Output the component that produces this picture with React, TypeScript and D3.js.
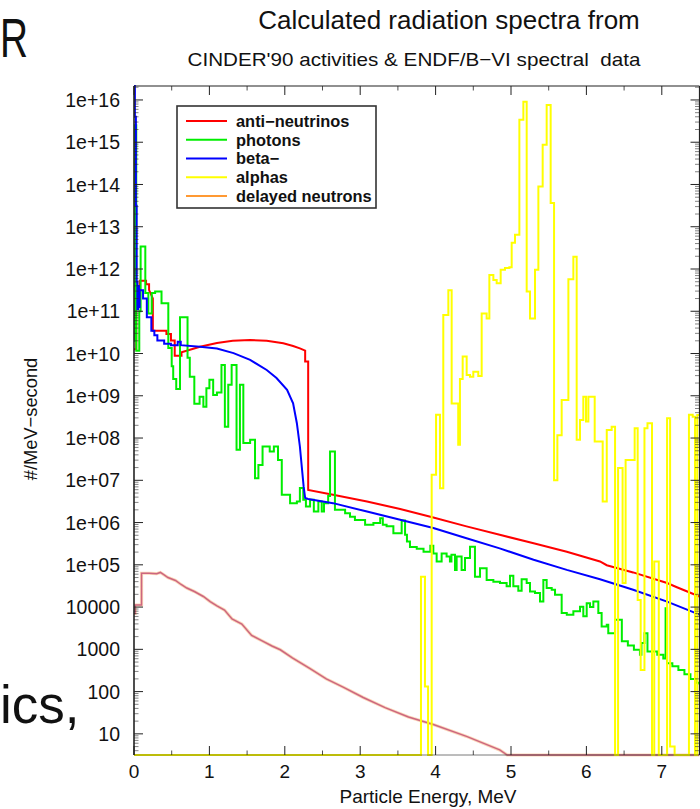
import React from "react";
import * as d3 from "d3";

const W = 700;
const H = 809;

// ---------- data (Energy MeV, #/MeV-second) ----------
const antiNeutrinos: [number, number][] = [
  [0, 1.26e10], [0.03, 1.26e10], [0.03, 2.82e11], [0.075, 2.82e11], [0.075, 5.25e11], [0.16, 5.25e11],
  [0.16, 4.37e11], [0.2, 4.37e11], [0.2, 3.16e11], [0.25, 2.0e11], [0.25, 3.47e10], [0.43, 3.47e10],
  [0.43, 2.88e10], [0.49, 2.88e10], [0.49, 2.04e10], [0.54, 2.04e10], [0.54, 8.91e9], [0.63, 8.91e9],
  [0.63, 1.07e10], [0.875, 1.45e10], [1.1, 1.78e10], [1.31, 2.0e10], [1.54, 2.09e10], [1.76, 2.0e10],
  [1.98, 1.74e10], [2.11, 1.51e10], [2.2, 1.32e10], [2.27, 1.17e10], [2.27, 6.46e9], [2.31, 6.46e9],
  [2.31, 5.89e6], [2.64, 4.57e6], [3.09, 3.16e6], [3.53, 2.09e6], [3.97, 1.32e6], [4.41, 8.13e5],
  [4.85, 5.13e5], [5.3, 3.24e5], [5.74, 2.04e5], [6.18, 1.2e5], [6.27, 9.77e4], [6.62, 6.61e4],
  [7.07, 3.72e4], [7.2, 2.95e4], [7.5, 1.78e4],
];

const betaMinus: [number, number][] = [
  [0, 1e17], [0.012, 1e17], [0.012, 3.98e15], [0.025, 3.98e15], [0.025, 3.16e13], [0.035, 3.16e13],
  [0.035, 5.01e11], [0.045, 5.01e11], [0.045, 1.12e11], [0.055, 1.12e11], [0.055, 3.98e11], [0.065, 3.98e11],
  [0.065, 1.26e11], [0.075, 1.26e11], [0.075, 3.16e11], [0.12, 3.16e11], [0.12, 2.0e11], [0.17, 2.0e11],
  [0.17, 7.24e10], [0.23, 7.24e10], [0.23, 3.47e10], [0.27, 3.47e10], [0.27, 2.69e10], [0.31, 2.69e10],
  [0.31, 2.04e10], [0.4, 2.04e10], [0.4, 1.7e10], [0.49, 1.7e10], [0.49, 1.58e10], [0.58, 1.58e10],
  [0.58, 1.91e10], [0.62, 1.91e10], [0.62, 1.58e10], [0.875, 1.45e10], [1.1, 1.32e10], [1.32, 1.02e10],
  [1.54, 7.08e9], [1.76, 4.07e9], [1.89, 2.63e9], [2.03, 1.38e9], [2.11, 6.61e8], [2.16, 2.24e8],
  [2.2, 6.31e7], [2.25, 7.08e6], [2.27, 3.8e6], [2.31, 3.63e6], [2.64, 2.88e6], [3.09, 1.82e6],
  [3.53, 1.17e6], [3.97, 7.41e5], [4.41, 4.27e5], [4.85, 2.45e5], [5.3, 1.32e5], [5.74, 7.59e4],
  [6.18, 4.57e4], [6.62, 2.57e4], [7.07, 1.35e4], [7.5, 6.61e3],
];

// step histograms: [bin start energy, value]
const photons: [number, number][] = [
  [0, 2.0e10], [0.01, 2.51e15], [0.03, 1.17e10], [0.07, 1.0e11], [0.088, 3.39e12], [0.15, 2.69e11],
  [0.19, 8.91e10], [0.235, 2.69e11], [0.28, 2.95e11], [0.365, 1.55e11], [0.455, 1.35e10], [0.5, 5.01e9],
  [0.52, 2.51e9], [0.56, 1.45e9], [0.61, 7.24e10], [0.71, 7.94e9], [0.74, 2.82e9], [0.8, 6.46e8],
  [0.87, 9.55e8], [0.92, 5.5e8], [0.96, 1.51e9], [1.0, 2.4e9], [1.05, 1.05e9], [1.1, 1.2e9],
  [1.16, 5.37e9], [1.205, 1.86e8], [1.25, 1.82e9], [1.295, 5.37e9], [1.36, 5.25e7], [1.405, 1.82e9],
  [1.45, 7.59e7], [1.54, 9.12e7], [1.605, 1.12e7], [1.65, 2.29e7], [1.705, 6.31e7], [1.8, 4.79e7],
  [1.855, 6.31e7], [1.91, 3.02e7], [1.96, 4.57e6], [2.07, 2.88e6], [2.16, 3.16e6], [2.2, 6.61e6],
  [2.245, 3.47e6], [2.28, 2.4e6], [2.335, 3.47e6], [2.385, 1.82e6], [2.445, 3.16e6], [2.49, 1.82e6],
  [2.52, 2.88e6], [2.575, 4.27e6], [2.6, 4.79e7], [2.665, 2.0e6], [2.8, 1.66e6], [2.865, 1.38e6],
  [2.93, 1.15e6], [3.065, 8.91e5], [3.175, 9.77e5], [3.265, 1.26e6], [3.3, 8.91e5], [3.35, 8.13e5],
  [3.44, 5.62e5], [3.55, 1.12e6], [3.595, 5.13e5], [3.62, 3.55e5], [3.66, 2.63e5], [3.75, 2.4e5],
  [3.84, 2.04e5], [3.93, 2.82e5], [3.97, 1.86e5], [4.014, 1.2e5], [4.08, 1.86e5], [4.146, 1.58e5],
  [4.19, 1.2e5], [4.21, 1.74e5], [4.257, 7.59e4], [4.279, 1.58e5], [4.345, 7.59e4], [4.39, 1.45e5],
  [4.456, 2.69e5], [4.522, 5.25e4], [4.589, 8.32e4], [4.677, 4.37e4], [4.766, 3.98e4], [4.854, 3.72e4],
  [4.942, 3.09e4], [4.987, 5.5e4], [5.031, 3.09e4], [5.097, 2.45e4], [5.141, 4.57e4], [5.208, 3.72e4],
  [5.252, 2.34e4], [5.318, 2.14e4], [5.385, 1.35e4], [5.429, 4.37e4], [5.473, 2.82e4], [5.54, 2.57e4],
  [5.584, 1.95e4], [5.672, 7.24e3], [5.74, 6.61e3], [5.827, 7.94e3], [5.915, 1.02e4], [5.959, 6.03e3],
  [6.004, 1.23e4], [6.048, 1.0e4], [6.092, 1.35e4], [6.158, 7.24e3], [6.202, 3.47e3], [6.27, 3.8e3],
  [6.29, 2.4e3], [6.38, 5.01e3], [6.47, 1.55e3], [6.55, 1.23e3], [6.63, 977], [6.71, 741],
  [6.73, 1.41e3], [6.77, 2.4e3], [6.81, 891], [6.86, 891], [6.94, 741], [7.02, 603], [7.05, 9.33e3],
  [7.07, 468], [7.14, 398], [7.22, 324], [7.3, 257], [7.38, 200], [7.45, 162], [7.5, 145],
];

const alphas: [number, number][] = [
  [0, 0], [3.806, 5.25e4], [3.859, 132], [3.9, 0], [3.948, 1.35e7], [4.006, 3.55e8], [4.058, 6.46e6],
  [4.102, 8.13e10], [4.169, 3.16e11], [4.213, 6.61e8], [4.3, 6.92e7], [4.323, 2.51e9], [4.359, 8.51e9],
  [4.412, 3.09e9], [4.456, 2.82e9], [4.5, 3.72e9], [4.566, 2.95e9], [4.611, 8.91e10], [4.677, 6.76e10],
  [4.713, 7.24e11], [4.766, 5.5e11], [4.81, 4.57e11], [4.863, 9.55e11], [4.92, 1.05e12], [4.978, 1.1e12],
  [5.009, 4.17e12], [5.053, 6.46e12], [5.111, 3.39e15], [5.164, 9.12e15], [5.208, 2.95e11],
  [5.252, 6.76e10], [5.318, 9.55e11], [5.363, 8.91e13], [5.42, 8.71e14], [5.473, 7.59e15],
  [5.526, 3.63e13], [5.571, 1.0e7], [5.615, 1.17e8], [5.672, 7.94e8], [5.761, 5.75e11], [5.827, 1.95e12],
  [5.871, 9.12e7], [5.915, 2.69e8], [5.959, 9.55e8], [5.995, 2.45e8], [6.026, 9.55e8], [6.11, 8.32e7],
  [6.216, 3.16e6], [6.27, 1.55e8], [6.335, 1.86e8], [6.38, 0], [6.42, 1.95e7], [6.48, 3.72e4],
  [6.52, 3.02e7], [6.64, 1.7e8], [6.68, 1.48e4], [6.72, 324], [6.77, 1.7e8], [6.81, 2.24e8],
  [6.87, 0], [6.9, 1.2e5], [6.96, 0], [7.07, 2.95e8], [7.11, 5], [7.17, 0], [7.36, 3.55e8],
  [7.41, 3.2e8], [7.44, 0], [7.47, 3.5e8], [7.5, 3.5e8],
];

const delayedNeutrons: [number, number][] = [
  [0, 7.08e3], [0.015, 7.08e3], [0.015, 1.12e4], [0.1, 1.12e4], [0.1, 6.31e4], [0.2, 6.31e4],
  [0.3, 6.17e4], [0.35, 6.61e4], [0.4, 5.75e4], [0.45, 5.01e4], [0.55, 4.27e4], [0.62, 3.47e4],
  [0.7, 2.82e4], [0.8, 2.34e4], [0.92, 1.78e4], [1.01, 1.35e4], [1.1, 1.07e4], [1.2, 8.51e3],
  [1.3, 5.25e3], [1.43, 3.98e3], [1.56, 2.14e3], [1.7, 1.58e3], [1.83, 1.2e3], [1.94, 977],
  [2.1, 631], [2.33, 355], [2.55, 200], [2.78, 126], [3.04, 72.4], [3.33, 41.7], [3.64, 25.1],
  [3.97, 16.6], [4.41, 8.71], [4.85, 4.17], [4.95, 3.16], [7.5, 0],
];

const xTickValues = [0, 1, 2, 3, 4, 5, 6, 7];
const yTickValues = [1e16, 1e15, 1e14, 1e13, 1e12, 1e11, 1e10, 1e9, 1e8, 1e7, 1e6, 1e5, 1e4, 1e3, 1e2, 1e1];
const yTickLabels = ["1e+16", "1e+15", "1e+14", "1e+13", "1e+12", "1e+11", "1e+10", "1e+09", "1e+08", "1e+07", "1e+06", "1e+05", "10000", "1000", "100", "10"];

const legendLabels = ["anti\u2212neutrinos", "photons", "beta\u2212", "alphas", "delayed neutrons"];
const legendColors = ["#ff0000", "#00ee00", "#0000ff", "#ffff00", "#ff9933"];

const FONT = "'Liberation Sans', Arial, Helvetica, sans-serif";

export default function App() {
  const left = 134, right = 699.5, top = 86, bottom = 755;
  const yMin = 3.16, yMax = 2.14e16;
  const x = d3.scaleLinear().domain([0, 7.5]).range([left, right]);
  const y = d3.scaleLog().domain([yMin, yMax]).range([bottom, top]).clamp(true);
  const Y = (v: number) => y(Math.max(v, yMin));

  const lin = d3.line<[number, number]>().x((d) => x(d[0])).y((d) => Y(d[1]));
  const stp = d3.line<[number, number]>().x((d) => x(d[0])).y((d) => Y(d[1])).curve(d3.curveStepAfter);

  // minor ticks for log axis
  const minorY: number[] = [];
  for (let k = 0; k <= 16; k++) {
    for (let m = 2; m <= 9; m++) {
      const v = m * Math.pow(10, k);
      if (v >= yMin && v <= yMax) minorY.push(v);
    }
  }
  const majorYAll: number[] = [];
  for (let k = 1; k <= 16; k++) majorYAll.push(Math.pow(10, k));
  const minorX = d3.range(0, 7.5, 0.5).filter((v) => v % 1 !== 0);

  const majLen = 9, minLen = 4.5;

  return (
    <svg width={W} height={H} style={{ display: "block", position: "absolute", left: 0, top: 0, background: "#fff" }}>
      <defs>
        <clipPath id="plotclip">
          <rect x={left} y={top - 1} width={right - left} height={bottom - top + 3} />
        </clipPath>
      </defs>
      <rect x={0} y={0} width={W} height={H} fill="#fff" />

      {/* slide text fragments */}
      <text x={0} y={57} fontFamily={FONT} fontSize={55} textLength={28} lengthAdjust="spacingAndGlyphs" fill="#111">R</text>
      <text x={0} y={723} fontFamily={FONT} fontSize={53} fill="#111">ics,</text>

      {/* titles */}
      <text x={449} y={29} fontFamily={FONT} fontSize={26} textAnchor="middle" fill="#111">Calculated radiation spectra from</text>
      <text x={414} y={66} fontFamily={FONT} fontSize={18.5} textLength={453} lengthAdjust="spacingAndGlyphs" textAnchor="middle" fill="#111" style={{ whiteSpace: "pre" }}>CINDER'90 activities &amp; ENDF/B{"\u2212"}VI spectral  data</text>

      {/* data */}
      <g clipPath="url(#plotclip)" fill="none" strokeLinejoin="miter">
        <path d={lin(delayedNeutrons) || ""} stroke="#f7b27a" strokeWidth={3.2} opacity={0.55} />
        <path d={lin(delayedNeutrons) || ""} stroke="#cc6680" strokeWidth={1.5} />
        <path d={lin(antiNeutrinos) || ""} stroke="#ff0000" strokeWidth={2} />
        <path d={stp(photons) || ""} stroke="#00ee00" strokeWidth={2} />
        <path d={lin(betaMinus) || ""} stroke="#0000ff" strokeWidth={2} />
        <path d={stp(alphas) || ""} stroke="#ffff00" strokeWidth={2} />
      </g>

      {/* frame */}
      <g stroke="#222" fill="none">
        <line x1={left} x2={left} y1={top} y2={bottom} strokeWidth={1.6} />
        <line x1={left} x2={right} y1={bottom} y2={bottom} strokeWidth={1} opacity={0.6} />
        <line x1={left} x2={right} y1={top} y2={top} strokeWidth={1.2} />
        <line x1={right} x2={right} y1={top} y2={bottom} strokeWidth={1.2} />
        {majorYAll.map((v) => (
          <g key={"my" + v}>
            <line x1={left} x2={left + majLen} y1={y(v)} y2={y(v)} strokeWidth={1} />
            <line x1={right} x2={right - majLen} y1={y(v)} y2={y(v)} strokeWidth={1} />
          </g>
        ))}
        {minorY.map((v) => (
          <g key={"ny" + v}>
            <line x1={left} x2={left + minLen} y1={y(v)} y2={y(v)} strokeWidth={0.8} opacity={0.7} />
            <line x1={right} x2={right - minLen} y1={y(v)} y2={y(v)} strokeWidth={0.8} opacity={0.7} />
          </g>
        ))}
        {xTickValues.map((v) => (
          <g key={"mx" + v}>
            <line x1={x(v)} x2={x(v)} y1={bottom} y2={bottom - majLen} strokeWidth={1} />
            <line x1={x(v)} x2={x(v)} y1={top} y2={top + majLen} strokeWidth={1} />
          </g>
        ))}
        {minorX.map((v) => (
          <g key={"nx" + v}>
            <line x1={x(v)} x2={x(v)} y1={bottom} y2={bottom - minLen} strokeWidth={0.8} />
            <line x1={x(v)} x2={x(v)} y1={top} y2={top + minLen} strokeWidth={0.8} />
          </g>
        ))}
      </g>

      {/* tick labels */}
      {yTickValues.map((v, i) => (
        <text key={"yl" + i} x={120} y={y(v)} dy="0.36em" fontFamily={FONT} fontSize={19.5} textAnchor="end" fill="#111">
          {yTickLabels[i]}
        </text>
      ))}
      {xTickValues.map((v) => (
        <text key={"xl" + v} x={x(v)} y={778} fontFamily={FONT} fontSize={19} textAnchor="middle" fill="#111">
          {v}
        </text>
      ))}

      {/* axis titles */}
      <text x={428} y={803} fontFamily={FONT} fontSize={19} textAnchor="middle" fill="#111">Particle Energy, MeV</text>
      <text transform="translate(37,419) rotate(-90)" fontFamily={FONT} fontSize={18.3} textAnchor="middle" fill="#111">#/MeV{"\u2212"}second</text>

      {/* legend */}
      <g>
        <rect x={177} y={106} width={199} height={102} fill="#fff" stroke="#333" strokeWidth={1.6} />
        {legendLabels.map((lab, i) => {
          const cy = 121 + i * 18.75;
          return (
            <g key={lab}>
              <line x1={186} x2={227} y1={cy} y2={cy} stroke={legendColors[i]} strokeWidth={2} />
              <text x={236} y={cy} dy="0.36em" fontFamily={FONT} fontSize={16.4} fontWeight="bold" fill="#111">
                {lab}
              </text>
            </g>
          );
        })}
      </g>
    </svg>
  );
}
